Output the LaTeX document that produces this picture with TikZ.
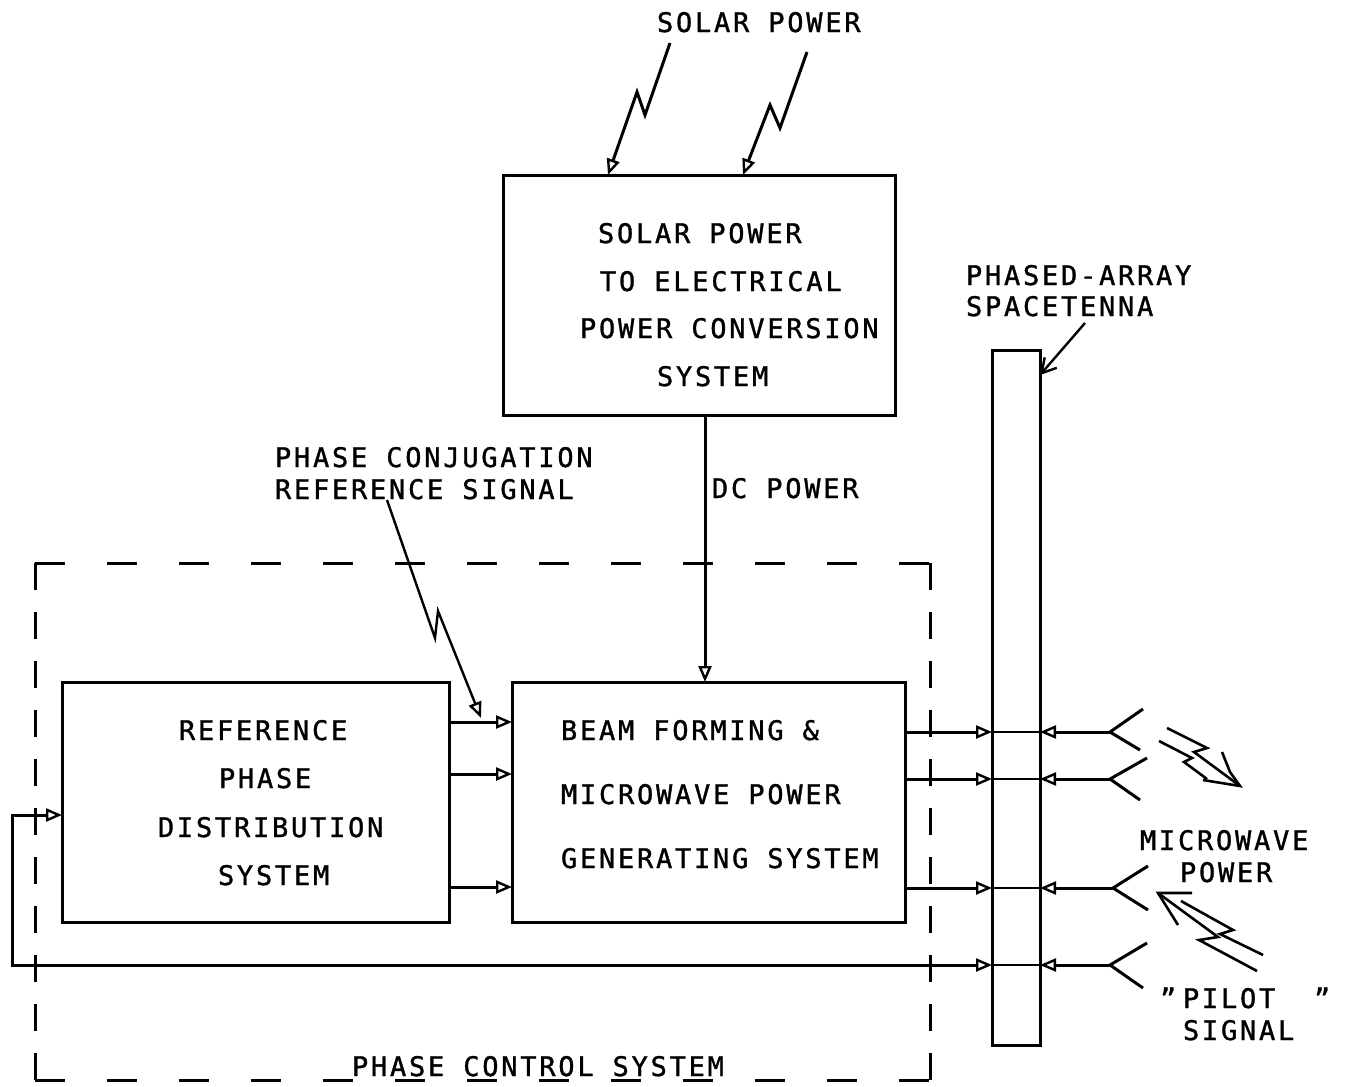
\documentclass[tikz,border=0pt]{standalone}
\usepackage{fontspec}
\newfontfamily\tw[LetterSpace=10.2,FakeBold=1.2]{DejaVu Sans Mono}
\usetikzlibrary{arrows.meta,calc}
\begin{document}
\begin{tikzpicture}[x=1pt,y=-1pt,line width=3pt,
  every node/.style={inner sep=0pt,outer sep=0pt},
  lbl/.style={anchor=base west,font=\tw\fontsize{27}{32}\selectfont},
  box/.style={draw,anchor=north west},
  tip/.style={-{Triangle[open,length=16pt,width=13pt,line width=2.4pt]}},
  dtip/.style={{Triangle[open,length=16pt,width=13pt,line width=2.4pt]}-{Triangle[open,length=16pt,width=13pt,line width=2.4pt]}},
  barb/.style={-{Straight Barb[length=14pt,width=16pt,line width=2.4pt]}},
  hdash/.style={line width=3pt,dash pattern=on 30pt off 42pt},
  vdash/.style={line width=3pt,dash pattern=on 27pt off 22pt}]
\useasboundingbox[fill=white] (0,0) rectangle (1347,1087);

% boxes
\node[box,minimum width=392pt,minimum height=240pt] (solar) at (503,175) {};
\node[box,minimum width=387pt,minimum height=240pt] (ref) at (62,682) {};
\node[box,minimum width=393pt,minimum height=240pt] (beam) at (512,682) {};
\node[box,minimum width=48pt,minimum height=695pt] (ant) at (992,350) {};

% texts
\node[lbl] (t1) at (657,32) {SOLAR POWER};
\node[lbl] (s1) at (598,243) {SOLAR POWER};
\node[lbl] (s2) at (600,291) {TO ELECTRICAL};
\node[lbl] (s3) at (580,338) {POWER CONVERSION};
\node[lbl] (s4) at (657,386) {SYSTEM};
\node[lbl] (pa1) at (966,285) {PHASED-ARRAY};
\node[lbl] (pa2) at (966,316) {SPACETENNA};
\node[lbl] (pc1) at (275,467) {PHASE CONJUGATION};
\node[lbl] (pc2) at (275,499) {REFERENCE SIGNAL};
\node[lbl] (dc) at (712,498) {DC POWER};
\node[lbl] (r1) at (179,740) {REFERENCE};
\node[lbl] (r2) at (219,788) {PHASE};
\node[lbl] (r3) at (158,837) {DISTRIBUTION};
\node[lbl] (r4) at (218,885) {SYSTEM};
\node[lbl] (b1) at (561,740) {BEAM FORMING \&};
\node[lbl] (b2) at (561,804) {MICROWAVE POWER};
\node[lbl] (b3) at (561,868) {GENERATING SYSTEM};
\node[lbl] (m1) at (1140,850) {MICROWAVE};
\node[lbl] (m2) at (1180,882) {POWER};
\node[lbl] (p1) at (1160,1008) {”};
\node[lbl] (p2) at (1183,1008) {PILOT};
\node[lbl] (p3) at (1314,1008) {”};
\node[lbl] (p4) at (1183,1040) {SIGNAL};
\node[lbl] (pcs) at (352,1076) {PHASE CONTROL SYSTEM};

% helper coordinates
\coordinate (sun1) at (670,43);
\coordinate (sun2) at (807,52);
\coordinate (xdc) at (705,0);
\coordinate (pcs0) at (387,500);
\coordinate (pcend) at (481,718);
\coordinate (ya) at (0,722);
\coordinate (yb) at (0,774);
\coordinate (yc) at (0,887);
\coordinate (y1) at (0,732);
\coordinate (y2) at (0,779);
\coordinate (y3) at (0,888);
\coordinate (y4) at (0,965);
\coordinate (yf) at (0,815);
\coordinate (f1) at (1110,732);
\coordinate (f2) at (1110,779);
\coordinate (f3) at (1113,888);
\coordinate (f4) at (1110,965);
\coordinate (loopA) at (12,815);
\coordinate (loopB) at (12,965);
\coordinate (antlbl) at (1085,323);
\coordinate (y375) at (0,375);

% solar power lightning arrows
\draw[tip] (sun1) -- (645,115) -- (637,92) -- ($(solar.north west)+(105,0)$);
\draw[tip] (sun2) -- (780,128) -- (770,105) -- ($(solar.north west)+(240,0)$);

% DC power
\draw[tip] (solar.south -| xdc) -- (beam.north -| xdc);

% phase conjugation reference signal
\draw[tip,line width=2.4pt] (pcs0) -- (435,638) -- (438,611) -- (pcend);

% ref -> beam
\draw[tip] (ref.east |- ya) -- (beam.west |- ya);
\draw[tip] (ref.east |- yb) -- (beam.west |- yb);
\draw[tip] (ref.east |- yc) -- (beam.west |- yc);

% beam -> antenna, feeds
\foreach \yy/\ff in {y1/f1,y2/f2,y3/f3}{
  \draw[tip] (beam.east |- \yy) -- (ant.west |- \yy);
  \draw[line width=2.4pt] (ant.west |- \yy) -- (ant.east |- \yy);
  \draw[tip] (\ff) -- (ant.east |- \yy);
}
\draw[line width=2.4pt] (ant.west |- y4) -- (ant.east |- y4);
\draw[tip] (f4) -- (ant.east |- y4);
% feedback loop
\draw[dtip] (ref.west |- yf) -- (loopA) -- (loopB) -- (ant.west |- y4);

% feed horns
\draw (1143,709) -- (f1) -- (1140,750);
\draw (1147,758) -- (f2) -- (1140,800);
\draw (1148,866) -- (f3) -- (1148,910);
\draw (1147,943) -- (f4) -- (1143,988);

% antenna label pointer
\draw[barb,line width=2.4pt] (antlbl) -- (ant.east |- y375);

% outgoing microwave power lightning
\draw[line width=2.6pt] (1167,728) -- (1207,748) -- (1194,752) -- (1240,786);
\draw[line width=2.6pt] (1159,741) -- (1192,758) -- (1184,762) -- (1207,779);
\draw[line width=2.6pt] (1222,752) -- (1230,772) -- (1240,786) -- (1203,780);

% incoming pilot signal lightning
\draw[line width=2.6pt] (1192,893) -- (1158,893) -- (1178,925);
\draw[line width=2.6pt] (1181,901) -- (1233,930) -- (1220,934) -- (1263,955);
\draw[line width=2.6pt] (1158,893) -- (1218,937) -- (1199,940) -- (1257,971);

% phase control system dashed boundary
\draw[hdash] (35,563) -- (930,563);
\draw[hdash] (35,1080) -- (930,1080);
\draw[vdash] (35,563) -- (35,1080);
\draw[vdash] (930,563) -- (930,1080);
\end{tikzpicture}
\end{document}
